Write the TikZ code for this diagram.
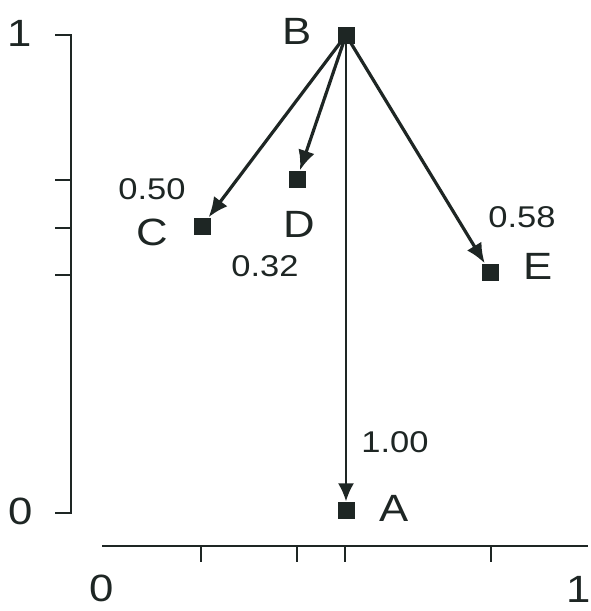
\documentclass[tikz,border=0pt]{standalone}
\usepackage{fontspec}
\setmainfont{Liberation Sans}[FakeStretch=1.15]
\usetikzlibrary{arrows.meta}
\definecolor{ink}{HTML}{1E2624}
\begin{document}
\begin{tikzpicture}[x=1pt,y=-1pt,
  pt/.style={fill=ink,draw=none,minimum size=17pt,inner sep=0pt,rectangle},
  lbl/.style={inner sep=0pt,text=ink,font=\fontsize{38}{40}\selectfont},
  num/.style={inner sep=0pt,text=ink,font=\fontsize{30}{32}\selectfont},
  axis/.style={draw=ink,line width=2.2pt},
  edge/.style={draw=ink,line width=3.2pt,-{Latex[length=20pt,width=17pt]}},
  vedge/.style={draw=ink,line width=2pt,-{Latex[length=18pt,width=16pt]}}]
\useasboundingbox (0,0) rectangle (591,611);
\fill[white] (0,0) rectangle (591,611);
% axes
\draw[axis] (55,35) -- (71,35) -- (71,513) -- (55,513);
\foreach \y in {180,228,275} \draw[axis] (55,\y) -- (71,\y);
\draw[axis] (102,546) -- (588,546);
\foreach \x in {201,297,345,491} \draw[axis] (\x,546) -- (\x,562);
\node[lbl] (y1) at (20,33) {1};
\node[lbl] (y0) at (21,511) {0};
\node[lbl] (x0) at (102,588) {0};
\node[lbl] (x1) at (579,589) {1};
% points
\node[pt] (B) at (346,35) {};
\node[pt] (C) at (202,226) {};
\node[pt] (D) at (297,179) {};
\node[pt] (E) at (490,272) {};
\node[pt] (A) at (346,510) {};
% labels
\node[lbl] (lB) at (297,31) {B};
\node[lbl] (lC) at (152,232) {C};
\node[lbl] (lD) at (299,224) {D};
\node[lbl] (lE) at (538,266) {E};
\node[lbl] (lA) at (394,508) {A};
\node[num] (n50) at (152,189) {0.50};
\node[num] (n32) at (265,266) {0.32};
\node[num] (n58) at (522,217) {0.58};
\node[num] (n100) at (395,442) {1.00};
% edges
\draw[edge] (B.center) -- (C);
\draw[edge] (B.center) -- (D);
\draw[edge] (B.center) -- (E);
\draw[vedge] (B.center) -- (A);
\end{tikzpicture}
\end{document}
